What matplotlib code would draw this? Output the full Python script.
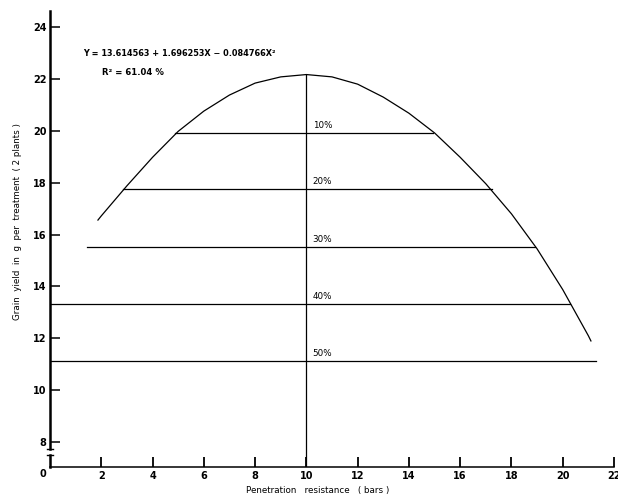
import matplotlib
matplotlib.use("Agg")
import matplotlib.pyplot as plt

# fitted response curve: penetration resistance (bars) vs grain yield (g)
curve_x = [1.87, 2, 3, 4, 5, 6, 7, 8, 9, 10, 11, 12, 13, 14, 15, 16, 17, 18, 19, 20, 21, 21.1]
curve_y = [16.56, 16.72, 17.88, 18.98, 19.98, 20.76, 21.38, 21.84, 22.08, 22.17, 22.08, 21.8,
           21.3, 20.68, 19.92, 18.98, 17.96, 16.8, 15.45, 13.88, 12.1, 11.9]

# yield reduction levels
pct_labels = ["10%", "20%", "30%", "40%", "50%"]
pct_y = [19.91, 17.75, 15.52, 13.32, 11.12]
pct_x0 = [4.88, 2.85, 1.44, 0.0, 0.0]
pct_x1 = [14.94, 17.24, 18.92, 20.3, 21.3]

peak_x = 10
peak_y = 22.17

xticks = [2, 4, 6, 8, 10, 12, 14, 16, 18, 20, 22]
yticks = [8, 10, 12, 14, 16, 18, 20, 22, 24]

equation = "Y = 13.614563 + 1.696253X \u2212 0.084766X\u00b2"
r2_text = "R\u00b2 = 61.04 %"

W, H = 618, 497
fig = plt.figure(figsize=(W / 100, H / 100), dpi=100)
ax = fig.add_axes([50 / W, 30 / H, 564 / W, 456 / H])
ax.set_xlim(0, 22)
ax.set_ylim(7.04, 24.62)

ax.plot(curve_x, curve_y, color="black", lw=0.9)
for x0, x1, y in zip(pct_x0, pct_x1, pct_y):
    ax.plot([x0, x1], [y, y], color="black", lw=0.9)
ax.plot([peak_x, peak_x], [7.04, peak_y], color="black", lw=0.9)

for lab, y in zip(pct_labels, pct_y):
    ax.annotate(lab, xy=(peak_x, y), xytext=(4.5, 2), textcoords="offset points",
                ha="left", va="bottom", fontsize=6.3)

# equation block, placed in figure pixels
fig.text(83 / W, 1 - 53 / H, equation, fontsize=5.9, fontweight="bold",
         va="center", ha="left")
fig.text(102 / W, 1 - 72 / H, r2_text, fontsize=6.1, fontweight="bold",
         va="center", ha="left")

# axes with broken y axis near the origin
for s in ("top", "right"):
    ax.spines[s].set_visible(False)
ax.spines["left"].set_linewidth(1.8)
ax.spines["left"].set_bounds(7.73, 24.62)
ax.spines["bottom"].set_linewidth(1.1)
ytr = ax.get_yaxis_transform()
ax.plot([0, 0], [7.04, 7.5], color="black", lw=1.8, transform=ytr, clip_on=False)
for yb in (7.5, 7.73):
    ax.plot([-0.006, 0.006], [yb, yb], color="black", lw=1.0, transform=ytr, clip_on=False)

ax.set_xticks(xticks)
ax.set_xticklabels([str(t) for t in xticks])
ax.set_yticks(yticks)
ax.set_yticklabels([str(t) for t in yticks])
ax.tick_params(axis="x", direction="in", length=7, width=1.3, pad=3, labelsize=7)
ax.tick_params(axis="y", direction="in", length=7, width=1.1, pad=2.5, labelsize=7)
for lab in ax.get_xticklabels() + ax.get_yticklabels():
    lab.set_fontweight("bold")

fig.text(43 / W, 1 - 474 / H, "0", fontsize=7, fontweight="bold", ha="center", va="center")

fig.text(318 / W, 1 - 490 / H, "Penetration   resistance   ( bars )",
         fontsize=6.3, ha="center", va="center")
fig.text(18 / W, 1 - 222 / H, "Grain  yield  in  g  per  treatment  ( 2 plants )",
         fontsize=6.3, ha="center", va="center", rotation=90)

fig.savefig("out.png", dpi=100)
